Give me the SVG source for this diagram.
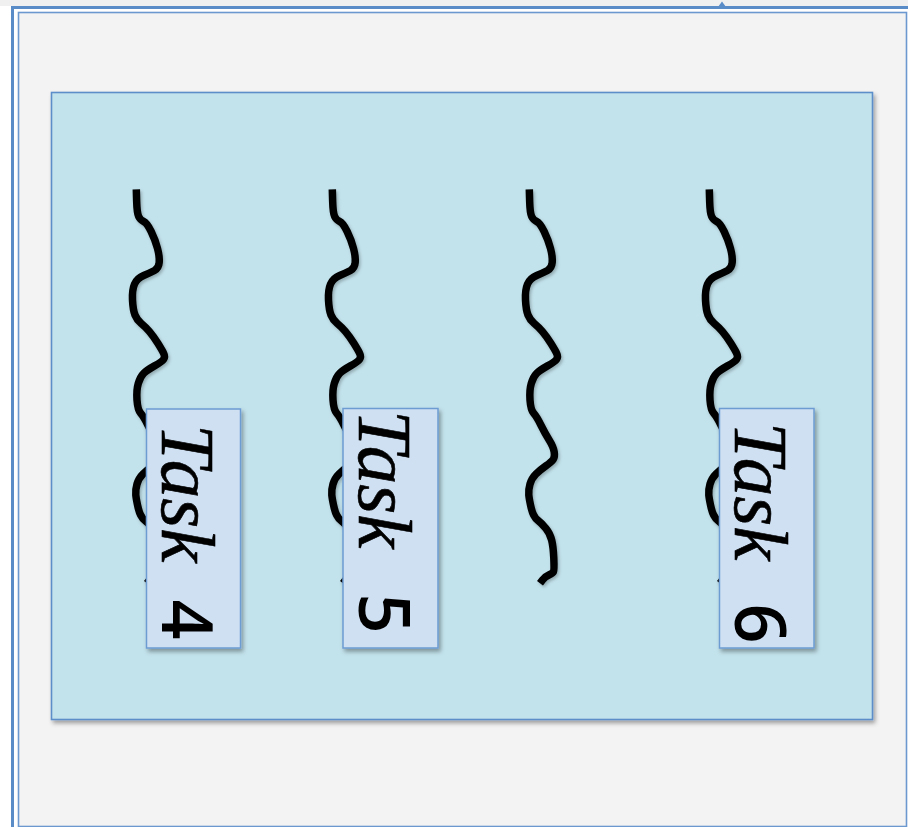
<svg xmlns="http://www.w3.org/2000/svg" width="908" height="827" viewBox="0 0 908 827">
  <style>
    .frame-outer { fill: #ffffff; stroke: #5a8cc8; stroke-width: 3; }
    .frame-inner { fill: #f3f3f3; stroke: #6a98cf; stroke-width: 1.6; }
    .panel { fill: #c3e3ec; stroke: #5b8ec9; stroke-width: 1.6; }
    .task-box { fill: #cfe0f3; stroke: #6d9cd2; stroke-width: 1.5; }
    .wave { fill: none; stroke: #000000; stroke-width: 7.5; stroke-linejoin: round; stroke-linecap: butt; }
    .task-word { font-family: "Liberation Serif", "Times New Roman", serif; font-style: italic; font-size: 77px; fill: #000000; stroke: #000000; stroke-width: 0.6; }
    .task-num { font-family: "Open Sans", "Liberation Sans", sans-serif; font-weight: 600; font-size: 70px; fill: #000000; }
  </style>
  <defs>
    <filter id="shadow" x="-10%" y="-10%" width="125%" height="125%">
      <feDropShadow dx="2" dy="3" stdDeviation="2" flood-color="#000000" flood-opacity="0.35"/>
    </filter>
    <filter id="softShadow" x="-20%" y="-5%" width="140%" height="110%">
      <feDropShadow dx="1.5" dy="2" stdDeviation="1.5" flood-color="#000000" flood-opacity="0.25"/>
    </filter>
    <!-- one hand-drawn thread, reused for every column -->
    <path id="thread" class="wave" d="M529.3,189.3 L529.65,201.15 Q530,213 531.65,216.5 Q533.3,220 536.65,221.5 Q540,223 544.15,231.5 Q548.3,240 550.5,248.35 Q552.7,256.7 552.2,262.5 Q551.7,268.3 547.5,270.5 Q543.3,272.7 536.65,275.5 Q530,278.3 527.5,284.15 Q525,290 525.5,300 Q526,310 528,315 Q530,320 534.15,323.35 Q538.3,326.7 542.5,331.7 Q546.7,336.7 550.85,343.35 Q555,350 556.65,353.35 Q558.3,356.7 556.65,359.2 Q555,361.7 547.5,365.85 Q540,370 536.65,373.35 Q533.3,376.7 531.3,383.35 Q529.3,390 530,400 Q530.7,410 533.7,413.35 Q536.7,416.7 540.85,425 Q545,433.3 549.15,440 Q553.3,446.7 554.15,451.7 Q555,456.7 553.35,459.2 Q551.7,461.7 545.85,465.85 Q540,470 535.850,474.15 Q531.7,478.3 530,484.15 Q528.3,490 528.8,495 Q529.3,500 531.3,508.35 Q533.3,516.7 537.5,520 Q541.7,523.3 545.85,528.3 Q550,533.3 551.65,540 Q553.3,546.7 553.8,558.35 Q554.3,570 553.5,571.65 Q552.7,573.3 548.85,575 Q545,576.7 542.5,580 L540,583.3"/>
  </defs>

  <!-- outer frame -->
  <g id="frame">
    <rect x="0" y="0" width="908" height="6" fill="#e6e6e6" opacity="0.6"/>
    <rect class="frame-outer" x="12.5" y="7.5" width="905" height="830"/>
    <rect class="frame-inner" x="18.5" y="12.5" width="888" height="814"/>
    <polygon points="718,7 726,7 722,1.5" fill="#5a8cc8"/>
  </g>

  <!-- light blue panel -->
  <g id="panel">
    <rect class="panel" x="51.5" y="92.5" width="821" height="627" filter="url(#shadow)"/>
  </g>

  <!-- threads -->
  <g id="connectors" filter="url(#softShadow)">
    <use href="#thread" transform="translate(-393,0)"/>
    <use href="#thread" transform="translate(-197,0)"/>
    <use href="#thread"/>
    <use href="#thread" transform="translate(180,0)"/>
  </g>

  <!-- task labels -->
  <g id="task4">
    <rect class="task-box" x="146.5" y="409" width="94" height="239" filter="url(#shadow)"/>
    <text class="task-word" transform="translate(162,424) rotate(90)">Task</text>
    <text class="task-num" transform="translate(162,599.5) rotate(90)">4</text>
  </g>
  <g id="task5">
    <rect class="task-box" x="343" y="408.5" width="95" height="239.5" filter="url(#shadow)"/>
    <text class="task-word" transform="translate(359,410) rotate(90)">Task</text>
    <text class="task-num" transform="translate(359,593.5) rotate(90)">5</text>
  </g>
  <g id="task6">
    <rect class="task-box" x="719.5" y="408.5" width="94.5" height="239.5" filter="url(#shadow)"/>
    <text class="task-word" transform="translate(735,422) rotate(90)">Task</text>
    <text class="task-num" transform="translate(735,603.5) rotate(90)">6</text>
  </g>
</svg>
